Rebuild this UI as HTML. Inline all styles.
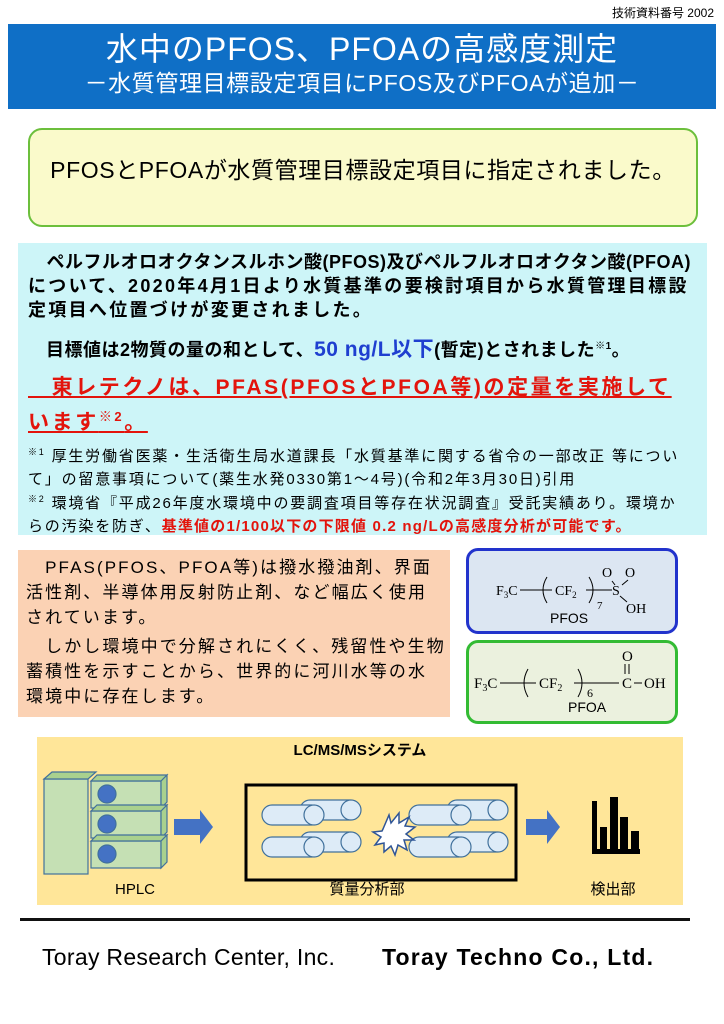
<!DOCTYPE html>
<html><head><meta charset="utf-8"><style>
body{margin:0;width:724px;height:1024px;background:#fff;position:relative;font-family:"Liberation Sans","Noto Sans CJK JP",sans-serif;overflow:hidden}
.a{position:absolute}
.cy p{margin:0;white-space:nowrap}
</style></head><body>
<div class="a" style="right:10px;top:4px;font-size:12px">技術資料番号 2002</div>
<div class="a" style="left:8px;top:24px;width:708px;height:85px;background:#0f6fc6;color:#fff;text-align:center;white-space:nowrap">
 <div style="font-size:32px;line-height:38px;margin-top:6px;letter-spacing:1px">水中のPFOS、PFOAの高感度測定</div>
 <div style="font-size:23px;line-height:30px;letter-spacing:0.6px">－水質管理目標設定項目にPFOS及びPFOAが追加－</div>
</div>
<div class="a" style="left:28px;top:128px;width:666px;height:95px;border:2px solid #6cbf3c;border-radius:14px;background:#fafacb;font-size:23px;line-height:80px;text-align:center;letter-spacing:0.6px;white-space:nowrap">PFOSとPFOAが水質管理目標設定項目に指定されました。</div>
<div class="a cy" style="left:18px;top:243px;width:689px;height:292px;background:#cdf5f8;font-weight:bold;font-size:18px;line-height:24px;letter-spacing:0.5px">
 <p style="position:absolute;left:10px;top:7px">　ペルフルオロオクタンスルホン酸(PFOS)及びペルフルオロオクタン酸(PFOA)<br><span style="letter-spacing:2.3px">について、2020年4月1日より水質基準の要検討項目から水質管理目標設<br>定項目へ位置づけが変更されました。</span></p>
 <p style="position:absolute;left:28px;top:92px">目標値は2物質の量の和として、<span style="color:#1f3fd0;font-size:21px">50 ng/L以下</span>(暫定)とされました<sup style="font-size:10px">※1</sup>。</p>
 <p style="position:absolute;left:10px;top:130px;color:#e3140c;font-size:21px;line-height:29px;letter-spacing:2.6px"><span style="text-decoration:underline">　東レテクノは、PFAS(PFOSとPFOA等)の定量を実施して<br>います<sup style="font-size:13px">※2</sup>。</span></p>
 <p style="position:absolute;left:10px;top:198px;font-weight:normal;font-size:15px;line-height:23px;letter-spacing:1.8px"><sup style="font-size:9px">※1</sup> 厚生労働省医薬・生活衛生局水道課長「水質基準に関する省令の一部改正 等につい<br>て」の留意事項について(薬生水発0330第1～4号)(令和2年3月30日)引用</p>
 <p style="position:absolute;left:10px;top:245px;font-weight:normal;font-size:15px;line-height:23px;letter-spacing:1.8px"><sup style="font-size:9px">※2</sup> 環境省『平成26年度水環境中の要調査項目等存在状況調査』受託実績あり。環境か<br>らの汚染を防ぎ、<b style="color:#e3140c;letter-spacing:1.2px">基準値の1/100以下の下限値 0.2 ng/Lの高感度分析が可能です。</b></p>
</div>
<div class="a" style="left:18px;top:550px;width:432px;height:167px;background:#fbd2b4;font-size:17px;line-height:25px;letter-spacing:2.1px;white-space:nowrap">
 <div style="position:absolute;left:8px;top:5px">　PFAS(PFOS、PFOA等)は撥水撥油剤、界面<br>活性剤、半導体用反射防止剤、など幅広く使用<br>されています。</div>
 <div style="position:absolute;left:8px;top:84px">　しかし環境中で分解されにくく、残留性や生物<br>蓄積性を示すことから、世界的に河川水等の水<br>環境中に存在します。</div>
</div>
<div class="a" style="left:466px;top:548px;width:206px;height:80px;border:3px solid #2233cc;border-radius:12px;background:#dce6f2"></div>
<div class="a" style="left:466px;top:640px;width:206px;height:78px;border:3px solid #33bb33;border-radius:12px;background:#ebf1de"></div>
<svg class="a" style="left:460px;top:545px" width="230" height="180" font-family="Liberation Serif,serif" font-size="14">
 <line x1="60" y1="45" x2="152" y2="45" stroke="#000"/>
 <rect x="92" y="36" width="34" height="16" fill="#dce6f2"/>
 <text x="36" y="50">F<tspan font-size="9" dy="3">3</tspan><tspan dy="-3">C</tspan></text>
 <path d="M87 32 Q79 45 87 58 M129 32 Q137 45 129 58" fill="none" stroke="#000"/>
 <text x="95" y="50">CF<tspan font-size="9" dy="3">2</tspan></text>
 <text x="137" y="64" font-size="11">7</text>
 <text x="152" y="50">S</text>
 <text x="142" y="32">O</text><text x="165" y="32">O</text>
 <line x1="152" y1="36" x2="155" y2="40" stroke="#000"/><line x1="168" y1="35" x2="162" y2="40" stroke="#000"/>
 <line x1="160" y1="51" x2="167" y2="57" stroke="#000"/>
 <text x="166" y="68">OH</text>
 <text x="90" y="78" font-family="Liberation Sans,sans-serif" font-size="14">PFOS</text>
 <line x1="40" y1="138" x2="160" y2="138" stroke="#000"/>
 <rect x="76" y="130" width="38" height="16" fill="#ebf1de"/>
 <text x="14" y="143" font-size="15">F<tspan font-size="10" dy="3">3</tspan><tspan dy="-3">C</tspan></text>
 <path d="M68 124 Q60 138 68 152 M118 124 Q126 138 118 152" fill="none" stroke="#000"/>
 <text x="79" y="143" font-size="15">CF<tspan font-size="10" dy="3">2</tspan></text>
 <text x="127" y="152" font-size="12">6</text>
 <rect x="159" y="130" width="14" height="16" fill="#ebf1de"/>
 <text x="162" y="143" font-size="15">C</text>
 <line x1="174" y1="138" x2="182" y2="138" stroke="#000"/>
 <text x="184" y="143" font-size="15">OH</text>
 <text x="162" y="116" font-size="15">O</text>
 <line x1="165" y1="119" x2="165" y2="129" stroke="#000"/><line x1="169" y1="119" x2="169" y2="129" stroke="#000"/>
 <text x="108" y="167" font-family="Liberation Sans,sans-serif" font-size="14">PFOA</text>
</svg>
<div class="a" style="left:37px;top:737px;width:646px;height:168px;background:#ffe699"></div>
<div class="a" style="left:37px;top:739px;width:646px;text-align:center;font-weight:bold;font-size:15px">LC/MS/MSシステム</div>
<svg class="a" style="left:37px;top:737px" width="646" height="168">
 <g stroke="#41719c" stroke-width="1.2" fill="#c5e0b4">
  <rect x="7" y="42" width="44" height="95"/>
  <path d="M7 42 L15 35 L59 35 L51 42Z" fill="#a9d18e"/>
  <g id="s"><rect x="54" y="44" width="70" height="27"/><path d="M54 44 L60 38 L130 38 L124 44Z M124 44 L130 38 L130 65 L124 71Z" fill="#a9d18e"/><circle cx="70" cy="57" r="9" fill="#4472c4"/></g>
  <use href="#s" y="30"/><use href="#s" y="60"/>
 </g>
 <path d="M137 82 L163 82 L163 73 L176 90 L163 107 L163 98 L137 98Z" fill="#4472c4"/>
 <rect x="209" y="48" width="270" height="95" fill="none" stroke="#000" stroke-width="3"/>
 <g stroke="#41719c" stroke-width="1.2" fill="#ddebf7">
  <g id="c"><rect x="263" y="63" width="60" height="20" rx="10"/><circle cx="314" cy="73" r="10"/><rect x="225" y="68" width="60" height="20" rx="10"/><circle cx="277" cy="78" r="10"/></g>
  <use href="#c" y="32"/><use href="#c" x="147"/><use href="#c" x="147" y="32"/>
 </g>
 <path d="M346 92 l6 -14 l2 8 l8 -10 l0 10 l10 -6 l-4 9 l10 1 l-9 7 l8 6 l-10 0 l3 10 l-9 -5 l-3 10 l-4 -9 l-7 6 l0 -9 l-9 2 l6 -8 l-8 -5 l9 -1z" fill="#fff" stroke="#2f5597" stroke-width="1.5"/>
 <path d="M489 82 L510 82 L510 73 L523 90 L510 107 L510 98 L489 98Z" fill="#4472c4"/>
 <g fill="#000"><rect x="555" y="64" width="5" height="52"/><rect x="555" y="112" width="48" height="5"/><rect x="563" y="90" width="7" height="22"/><rect x="573" y="60" width="8" height="52"/><rect x="583" y="80" width="8" height="32"/><rect x="594" y="94" width="8" height="18"/></g>
 <g font-size="15" text-anchor="middle" font-family="Liberation Sans,Noto Sans CJK JP,sans-serif"><text x="98" y="157">HPLC</text><text x="330" y="157">質量分析部</text><text x="576" y="157">検出部</text></g>
</svg>
<div class="a" style="left:20px;top:918px;width:670px;height:3px;background:#111"></div>
<div class="a" style="left:42px;top:944px;font-size:23px;letter-spacing:0.3px;white-space:nowrap">Toray Research Center, Inc.</div>
<div class="a" style="left:382px;top:944px;font-size:23px;font-weight:bold;letter-spacing:1.2px;white-space:nowrap">Toray Techno Co., Ltd.</div>
</body></html>
